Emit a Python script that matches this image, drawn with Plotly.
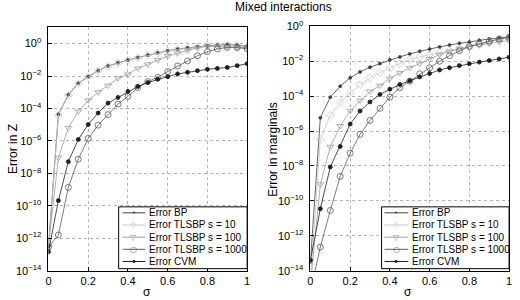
import plotly.graph_objects as go

sigma = [0, 0.05, 0.1, 0.15, 0.2, 0.25, 0.3, 0.35, 0.4, 0.45, 0.5,
         0.55, 0.6, 0.65, 0.7, 0.75, 0.8, 0.85, 0.9, 0.95, 1.0]

# log10 of errors
# Left panel: Error in Z
z_bp = [-12.5, -4.36, -3.16, -2.45, -2.04, -1.67, -1.38, -1.18, -1.02, -0.86, -0.71,
        -0.57, -0.45, -0.34, -0.26, -0.2, -0.14, -0.1, -0.06, -0.1, -0.16]
z_s10 = [-12.5, -4.4, -3.2, -2.48, -2.06, -1.69, -1.4, -1.2, -1.04, -0.88, -0.73,
         -0.59, -0.47, -0.36, -0.28, -0.22, -0.16, -0.12, -0.09, -0.12, -0.18]
z_s100 = [-12.5, -7.03, -5.2, -4.18, -3.5, -3.0, -2.59, -2.14, -1.9, -1.53, -1.28,
          -1.02, -0.77, -0.6, -0.42, -0.26, -0.17, -0.17, -0.2, -0.22, -0.25]
z_s1000 = [-12.55, -11.8, -8.87, -7.13, -5.85, -5.03, -4.38, -3.73, -3.26, -2.71, -2.34,
           -2.08, -1.73, -1.38, -1.07, -0.75, -0.5, -0.33, -0.24, -0.25, -0.32]
z_cvm = [-12.84, -9.68, -7.28, -5.91, -4.99, -4.28, -3.67, -3.32, -2.95, -2.65, -2.4,
         -2.2, -2.04, -1.87, -1.77, -1.67, -1.59, -1.53, -1.47, -1.36, -1.24]

# Right panel: Error in marginals
m_bp = [-13.5, -5.24, -4.06, -3.43, -2.95, -2.61, -2.34, -2.13, -1.92, -1.75, -1.58,
        -1.43, -1.3, -1.18, -1.07, -0.97, -0.9, -0.8, -0.72, -0.67, -0.61]
m_s10 = [-14.6, -6.48, -5.1, -4.35, -3.8, -3.35, -2.95, -2.65, -2.4, -2.15, -1.9,
         -1.75, -1.62, -1.5, -1.4, -1.3, -1.18, -1.05, -0.9, -0.75, -0.65]
m_s100 = [-14.8, -9.05, -6.9, -5.71, -4.84, -4.25, -3.73, -3.4, -2.99, -2.67, -2.38,
          -2.13, -1.87, -1.62, -1.43, -1.28, -1.16, -1.06, -0.98, -0.9, -0.82]
m_s1000 = [-15.2, -12.65, -10.55, -8.6, -7.27, -6.19, -5.39, -4.7, -4.06, -3.52, -3.14,
           -2.72, -2.38, -2.0, -1.68, -1.4, -1.15, -1.0, -0.86, -0.72, -0.63]
m_cvm = [-13.4, -10.45, -8.06, -6.88, -5.6, -4.85, -4.33, -3.9, -3.6, -3.33, -3.12,
         -2.9, -2.7, -2.5, -2.37, -2.25, -2.14, -2.05, -1.96, -1.87, -1.77]

names = ["Error BP", "Error TLSBP s = 10", "Error TLSBP s = 100",
         "Error TLSBP s = 1000", "Error CVM"]
key_glyphs = ["•", "◇", "▽", "○", "•"]
key_sizes = [7, 8, 8, 8, 10]

x_ticks = [0, 0.2, 0.4, 0.6, 0.8, 1]
x_tick_labels = ["0", "0.2", "0.4", "0.6", "0.8", "1"]
y_tick_exps = [-14, -12, -10, -8, -6, -4, -2, 0]

colors = ["#404040", "#c8c8c8", "#9c9c9c", "#5a5a5a", "#202020"]
symbols = ["circle", "diamond-open", "triangle-down-open", "circle-open", "circle"]
sizes = [3, 6, 6, 6, 4]

W, H = 520, 300
FONT = "Liberation Sans, Arial, Helvetica, sans-serif"


def py(y):
    """paper fraction for a pixel row (with a small correction for the viewer)."""
    return 1 - ((y - 6.6) / 0.956) / H


fig = go.Figure()
panels = [([z_bp, z_s10, z_s100, z_s1000, z_cvm], "x", "y"),
          ([m_bp, m_s10, m_s100, m_s1000, m_cvm], "x2", "y2")]
for series, xa, ya in panels:
    for i in range(5):
        fig.add_trace(go.Scatter(
            x=sigma, y=[10 ** v for v in series[i]], name=names[i], mode="lines+markers",
            line=dict(color=colors[i], width=0.8),
            marker=dict(symbol=symbols[i], size=sizes[i], color=colors[i],
                        line=dict(color=colors[i], width=0.8)),
            xaxis=xa, yaxis=ya, showlegend=False))

tickfont = dict(family=FONT, size=11, color="black")
axcommon = dict(showline=True, linecolor="black", linewidth=1, mirror=True,
                ticks="inside", ticklen=4, tickcolor="black",
                showgrid=True, gridcolor="#b4b4b4", griddash="dot", gridwidth=1,
                zeroline=False, tickfont=tickfont)
ytv = [10.0 ** e for e in y_tick_exps]
ytt = ["10<sup>%s</sup>" % (str(e).replace("-", "−")) for e in y_tick_exps]

fig.update_layout(
    width=W, height=H, margin=dict(l=0, r=0, t=0, b=0),
    paper_bgcolor="white", plot_bgcolor="white",
    font=dict(family=FONT, size=11, color="black"),
    xaxis=dict(domain=[46 / W, 247 / W], range=[0, 1], tickvals=x_ticks,
               ticktext=x_tick_labels, anchor="y", **axcommon),
    yaxis=dict(domain=[py(270), py(26)], type="log", range=[-14, 1],
               tickvals=ytv, ticktext=ytt, ticklabelstandoff=4, anchor="x", **axcommon),
    xaxis2=dict(domain=[311 / W, 512 / W], range=[0, 1], tickvals=x_ticks,
                ticktext=x_tick_labels, anchor="y2", **axcommon),
    yaxis2=dict(domain=[py(270), py(25)], type="log", range=[-14, 0],
                tickvals=ytv, ticktext=ytt, ticklabelstandoff=4, anchor="x2", **axcommon),
    showlegend=False,
)

ann = []
shapes = []
# title and axis titles
ann.append(dict(text="Mixed interactions", x=284 / W, y=py(5.2), xref="paper", yref="paper",
                xanchor="center", yanchor="middle", showarrow=False,
                font=dict(family=FONT, size=12)))
for cx in (146, 410):
    ann.append(dict(text="σ", x=cx / W, y=py(291), xref="paper", yref="paper",
                    xanchor="center", yanchor="middle", showarrow=False,
                    font=dict(family=FONT, size=12)))
ann.append(dict(text="Error in Z", x=10 / W, y=py(148), xref="paper", yref="paper",
                xanchor="center", yanchor="middle", showarrow=False, textangle=-90,
                font=dict(family=FONT, size=12)))
ann.append(dict(text="Error in marginals", x=273 / W, y=py(148), xref="paper", yref="paper",
                xanchor="center", yanchor="middle", showarrow=False, textangle=-90,
                font=dict(family=FONT, size=12)))

# hand-built legends (compact, like the original)
rows = [212, 224.2, 236.4, 248.6, 260.8]
for (bx0, bx1, lx0, lx1, tx) in [(117, 247, 121, 144, 146), (383, 512, 386, 410, 412)]:
    shapes.append(dict(type="rect", xref="paper", yref="paper",
                       x0=bx0 / W, x1=bx1 / W, y0=py(268), y1=py(206),
                       fillcolor="white", line=dict(color="black", width=1), layer="above"))
    for i, ry in enumerate(rows):
        shapes.append(dict(type="line", xref="paper", yref="paper",
                           x0=lx0 / W, x1=lx1 / W, y0=py(ry), y1=py(ry),
                           line=dict(color=colors[i], width=1), layer="above"))
        ann.append(dict(text=key_glyphs[i], x=(lx0 + lx1) / 2 / W, y=py(ry),
                        xref="paper", yref="paper", xanchor="center", yanchor="middle",
                        showarrow=False, font=dict(family="DejaVu Sans", size=key_sizes[i],
                                                   color=colors[i])))
        ann.append(dict(text=names[i], x=tx / W, y=py(ry), xref="paper", yref="paper",
                        xanchor="left", yanchor="middle", showarrow=False,
                        font=dict(family=FONT, size=10, color="black")))

fig.update_layout(annotations=ann, shapes=shapes)
fig.write_html("out.html", config={"displayModeBar": False},
               post_script="document.body.style.margin='0';document.body.style.overflow='hidden';")
